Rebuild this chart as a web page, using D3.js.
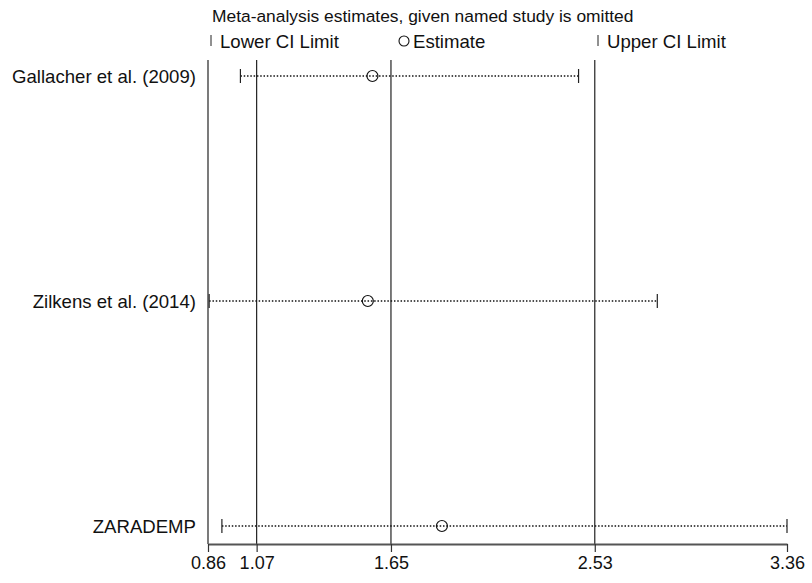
<!DOCTYPE html>
<html lang="en">
<head>
    <meta charset="UTF-8">
    <title>Leave-one-out sensitivity</title>
    <script src="https://d3js.org/d3.v7.min.js"></script>
    <style>
        body { margin: 0; background: #fff; }
        text { font-family: 'Liberation Sans', Arial, sans-serif; fill: #111; }
    </style>
</head>
<body>
    <div id="chart"></div>
    <script>
        // studies omitted, one row each
        const studies = ["Gallacher et al. (2009)", "Zilkens et al. (2014)", "ZARADEMP"];
        const estimate = [1.57, 1.55, 1.87];
        const lowerCI = [1.00, 0.865, 0.92];
        const upperCI = [2.46, 2.80, 3.36];
        const tickValues = [0.86, 1.07, 1.65, 2.53, 3.36];
        const gridValues = [0.86, 1.07, 1.65, 2.53];

        const width = 812, height = 583;
        const plotTop = 60, axisY = 544;

        const svg = d3.select("#chart")
            .append("svg")
            .attr("width", width)
            .attr("height", height);

        const x = d3.scaleLinear()
            .domain([0.86, 3.36])
            .range([208, 787]);

        const y = d3.scalePoint()
            .domain(studies)
            .range([76, 526]);

        // vertical reference lines
        svg.selectAll(".grid")
            .data(gridValues)
            .join("line")
            .attr("class", "grid")
            .attr("x1", d => x(d)).attr("x2", d => x(d))
            .attr("y1", plotTop).attr("y2", axisY)
            .attr("stroke", "#222")
            .attr("stroke-width", 1.2);

        // x axis
        const xAxis = svg.append("g")
            .attr("transform", `translate(0,${axisY})`)
            .call(d3.axisBottom(x).tickValues(tickValues).tickSize(8).tickSizeOuter(0).tickFormat(d3.format(".2f")));
        xAxis.select(".domain").attr("stroke", "#555").attr("stroke-width", 2);
        xAxis.selectAll(".tick line").attr("stroke", "#333").attr("stroke-width", 1.2);
        xAxis.selectAll(".tick text")
            .attr("y", 12)
            .style("font-size", "18px")
            .style("font-family", "'Liberation Sans Narrow', 'Liberation Sans', Arial, sans-serif")
            .attr("fill", "#111");

        const rows = studies.map((s, i) => ({study: s, est: estimate[i], lo: lowerCI[i], hi: upperCI[i]}));

        // dotted CI lines
        svg.selectAll(".ci")
            .data(rows)
            .join("line")
            .attr("class", "ci")
            .attr("x1", d => x(d.lo)).attr("x2", d => x(d.hi))
            .attr("y1", d => y(d.study)).attr("y2", d => y(d.study))
            .attr("stroke", "#111")
            .attr("stroke-width", 1.6)
            .attr("stroke-dasharray", "1.5,1.8");

        // CI end caps
        ["lo", "hi"].forEach(k => {
            svg.selectAll(".cap-" + k)
                .data(rows)
                .join("line")
                .attr("class", "cap-" + k)
                .attr("x1", d => x(d[k])).attr("x2", d => x(d[k]))
                .attr("y1", d => y(d.study) - 7).attr("y2", d => y(d.study) + 7)
                .attr("stroke", "#222")
                .attr("stroke-width", 1.2);
        });

        // estimates
        svg.selectAll(".est")
            .data(rows)
            .join("circle")
            .attr("class", "est")
            .attr("cx", d => x(d.est))
            .attr("cy", d => y(d.study))
            .attr("r", 5.5)
            .attr("fill", "none")
            .attr("stroke", "#111")
            .attr("stroke-width", 1.2);

        // study labels
        svg.selectAll(".lab")
            .data(rows)
            .join("text")
            .attr("class", "lab")
            .attr("x", 196)
            .attr("y", d => y(d.study))
            .attr("dy", "0.35em")
            .attr("text-anchor", "end")
            .style("font-size", "18.6px")
            .text(d => d.study);

        // title
        svg.append("text")
            .attr("x", 212).attr("y", 22)
            .style("font-size", "17.4px")
            .text("Meta-analysis estimates, given named study is omitted");

        // legend
        const legY = 41;
        svg.append("line").attr("x1", 211).attr("x2", 211).attr("y1", legY - 6).attr("y2", legY + 5).attr("stroke", "#222");
        svg.append("text").attr("x", 220).attr("y", legY).attr("dy", "0.35em").style("font-size", "18.6px").text("Lower CI Limit");
        svg.append("circle").attr("cx", 404).attr("cy", legY).attr("r", 5).attr("fill", "none").attr("stroke", "#111").attr("stroke-width", 1.1);
        svg.append("text").attr("x", 413).attr("y", legY).attr("dy", "0.35em").style("font-size", "18.6px").text("Estimate");
        svg.append("line").attr("x1", 598).attr("x2", 598).attr("y1", legY - 6).attr("y2", legY + 5).attr("stroke", "#222");
        svg.append("text").attr("x", 607).attr("y", legY).attr("dy", "0.35em").style("font-size", "18.6px").text("Upper CI Limit");
    </script>
</body>
</html>
